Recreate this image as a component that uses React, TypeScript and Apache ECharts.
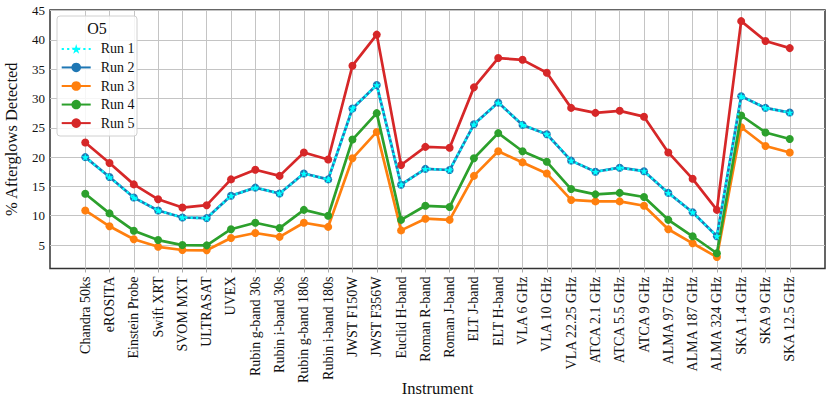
import React, { useEffect, useRef } from "react";
import * as echarts from "echarts";

const categories = [
  "Chandra 50ks", "eROSITA", "Einstein Probe", "Swift XRT", "SVOM MXT", "ULTRASAT", "UVEX",
  "Rubin g-band 30s", "Rubin i-band 30s", "Rubin g-band 180s", "Rubin i-band 180s",
  "JWST F150W", "JWST F356W", "Euclid H-band", "Roman R-band", "Roman J-band",
  "ELT J-band", "ELT H-band", "VLA 6 GHz", "VLA 10 GHz", "VLA 22.25 GHz",
  "ATCA 2.1 GHz", "ATCA 5.5 GHz", "ATCA 9 GHz", "ALMA 97 GHz", "ALMA 187 GHz", "ALMA 324 GHz",
  "SKA 1.4 GHz", "SKA 9 GHz", "SKA 12.5 GHz",
];

const run1 = [20.0, 16.6, 13.1, 10.9, 9.7, 9.6, 13.4, 14.8, 13.8, 17.2, 16.2, 28.3, 32.3, 15.3, 18.0, 17.8, 25.6, 29.3, 25.5, 23.9, 19.4, 17.5, 18.2, 17.6, 13.9, 10.6, 6.5, 30.4, 28.4, 27.6];
const run2 = [20.0, 16.6, 13.1, 10.9, 9.7, 9.6, 13.4, 14.8, 13.8, 17.2, 16.2, 28.3, 32.3, 15.3, 18.0, 17.8, 25.6, 29.3, 25.5, 23.9, 19.4, 17.5, 18.2, 17.6, 13.9, 10.6, 6.5, 30.4, 28.4, 27.6];
const run3 = [10.9, 8.2, 6.0, 4.7, 4.15, 4.1, 6.2, 7.05, 6.4, 8.8, 8.1, 19.8, 24.3, 7.5, 9.5, 9.3, 16.8, 21.0, 19.1, 17.2, 12.7, 12.45, 12.45, 11.7, 7.7, 5.3, 2.95, 25.1, 21.9, 20.8];
const run4 = [13.75, 10.4, 7.45, 5.85, 5.0, 4.95, 7.7, 8.8, 7.9, 11.0, 10.0, 23.0, 27.5, 9.3, 11.7, 11.5, 19.8, 24.1, 21.0, 19.2, 14.55, 13.65, 13.9, 13.2, 9.3, 6.5, 3.6, 27.1, 24.2, 23.1];
const run5 = [22.5, 19.0, 15.35, 12.8, 11.4, 11.8, 16.2, 17.85, 16.8, 20.8, 19.6, 35.6, 40.9, 18.65, 21.75, 21.6, 31.9, 36.9, 36.6, 34.4, 28.4, 27.55, 27.9, 26.9, 20.8, 16.3, 11.0, 43.2, 39.8, 38.6];

const yTicks = [5, 10, 15, 20, 25, 30, 35, 40, 45];
const legendTitle = "O5";

const STAR =
  "path://M0,-1 L0.2245,-0.309 L0.951,-0.309 L0.363,0.118 L0.588,0.809 L0,0.382 L-0.588,0.809 L-0.363,0.118 L-0.951,-0.309 L-0.2245,-0.309 Z";

const FONT = "'Liberation Serif', 'DejaVu Serif', serif";
const GRID_COLOR = "#c4c4c4";

export default function App() {
  const ref = useRef<HTMLDivElement>(null);
  useEffect(() => {
    if (!ref.current) return;
    const chart = echarts.init(ref.current, null, { renderer: "svg" });
    const n = categories.length;
    const pad = 0.05 * (n - 1);
    const xIdx = categories.map((_, i) => i);
    const pairs = (arr: number[]) => arr.map((v, i) => [i, v]);
    const mkLine = (name: string, data: number[], color: string, z: number) => ({
      name,
      type: "line",
      data: pairs(data),
      z,
      symbol: "circle",
      symbolSize: 8,
      lineStyle: { color, width: 2.7 },
      itemStyle: { color },
      emphasis: { disabled: true },
    });
    chart.setOption({
      animation: false,
      textStyle: { fontFamily: FONT },
      grid: {
        left: 50,
        right: 5,
        top: 10,
        bottom: 134.5,
        outerBoundsMode: "none",
        containLabel: false,
        show: true,
        borderColor: "#333",
        borderWidth: 1.5,
        backgroundColor: "transparent",
      },
      xAxis: {
        type: "value",
        min: -pad,
        max: n - 1 + pad,
        axisLine: { show: false },
        axisTick: { show: true, length: 4, customValues: xIdx, lineStyle: { color: "#aaa", width: 1 } },
        splitLine: { show: true, lineStyle: { color: GRID_COLOR, width: 1 } },
        axisLabel: {
          customValues: xIdx,
          rotate: 90,
          margin: 8,
          fontSize: 14,
          color: "#111",
          fontFamily: FONT,
          formatter: (v: number) => categories[Math.round(v)] ?? "",
        },
        name: "Instrument",
        nameLocation: "middle",
        nameGap: 111,
        nameMoveOverlap: false,
        nameTextStyle: { fontSize: 16.5, color: "#111", fontFamily: FONT },
      },
      yAxis: {
        type: "value",
        min: 1,
        max: 45.1,
        axisLine: { show: false },
        axisTick: { show: false, customValues: yTicks },
        splitLine: { show: true, lineStyle: { color: GRID_COLOR, width: 1 } },
        axisLabel: {
          customValues: yTicks,
          fontSize: 13,
          color: "#111",
          margin: 5,
          fontFamily: FONT,
        },
        name: "% Afterglows Detected",
        nameLocation: "middle",
        nameGap: 30,
        nameMoveOverlap: false,
        nameTextStyle: { fontSize: 16.5, color: "#111", fontFamily: FONT },
      },
      graphic: [
        {
          type: "rect",
          z: 3,
          shape: { x: 57, y: 16, width: 80, height: 120, r: 3 },
          style: { fill: "rgba(255,255,255,0.85)", stroke: "#d0d0d0", lineWidth: 1 },
        },
        {
          type: "text",
          z: 4,
          x: 97,
          y: 28,
          style: { text: legendTitle, fontSize: 16, fontFamily: FONT, fill: "#111", align: "center", verticalAlign: "middle" },
        },
      ],
      legend: {
        orient: "vertical",
        left: 55.7,
        top: 36.9,
        z: 5,
        itemWidth: 29,
        itemHeight: 12,
        itemGap: 4.55,
        data: ["Run 1", "Run 2", "Run 3", "Run 4", "Run 5"],
        textStyle: { fontSize: 14, color: "#111", fontFamily: FONT, lineHeight: 12, padding: [0, 0, 0, 5] },
      },
      series: [
        mkLine("Run 2", run2, "#1f77b4", 2),
        mkLine("Run 3", run3, "#ff7f0e", 3),
        mkLine("Run 4", run4, "#2ca02c", 4),
        mkLine("Run 5", run5, "#d62728", 5),
        {
          name: "Run 1",
          type: "line",
          data: pairs(run1),
          z: 6,
          symbol: STAR,
          symbolSize: 8,
          symbolKeepAspect: true,
          lineStyle: { color: "#00ffff", width: 2.6, type: [2.2, 3.2] },
          itemStyle: { color: "#00ffff" },
          emphasis: { disabled: true },
        },
      ],
    });
    return () => chart.dispose();
  }, []);
  return (
    <div
      ref={ref}
      style={{ position: "fixed", left: 0, top: 0, width: 830, height: 403, background: "#fff" }}
    />
  );
}
